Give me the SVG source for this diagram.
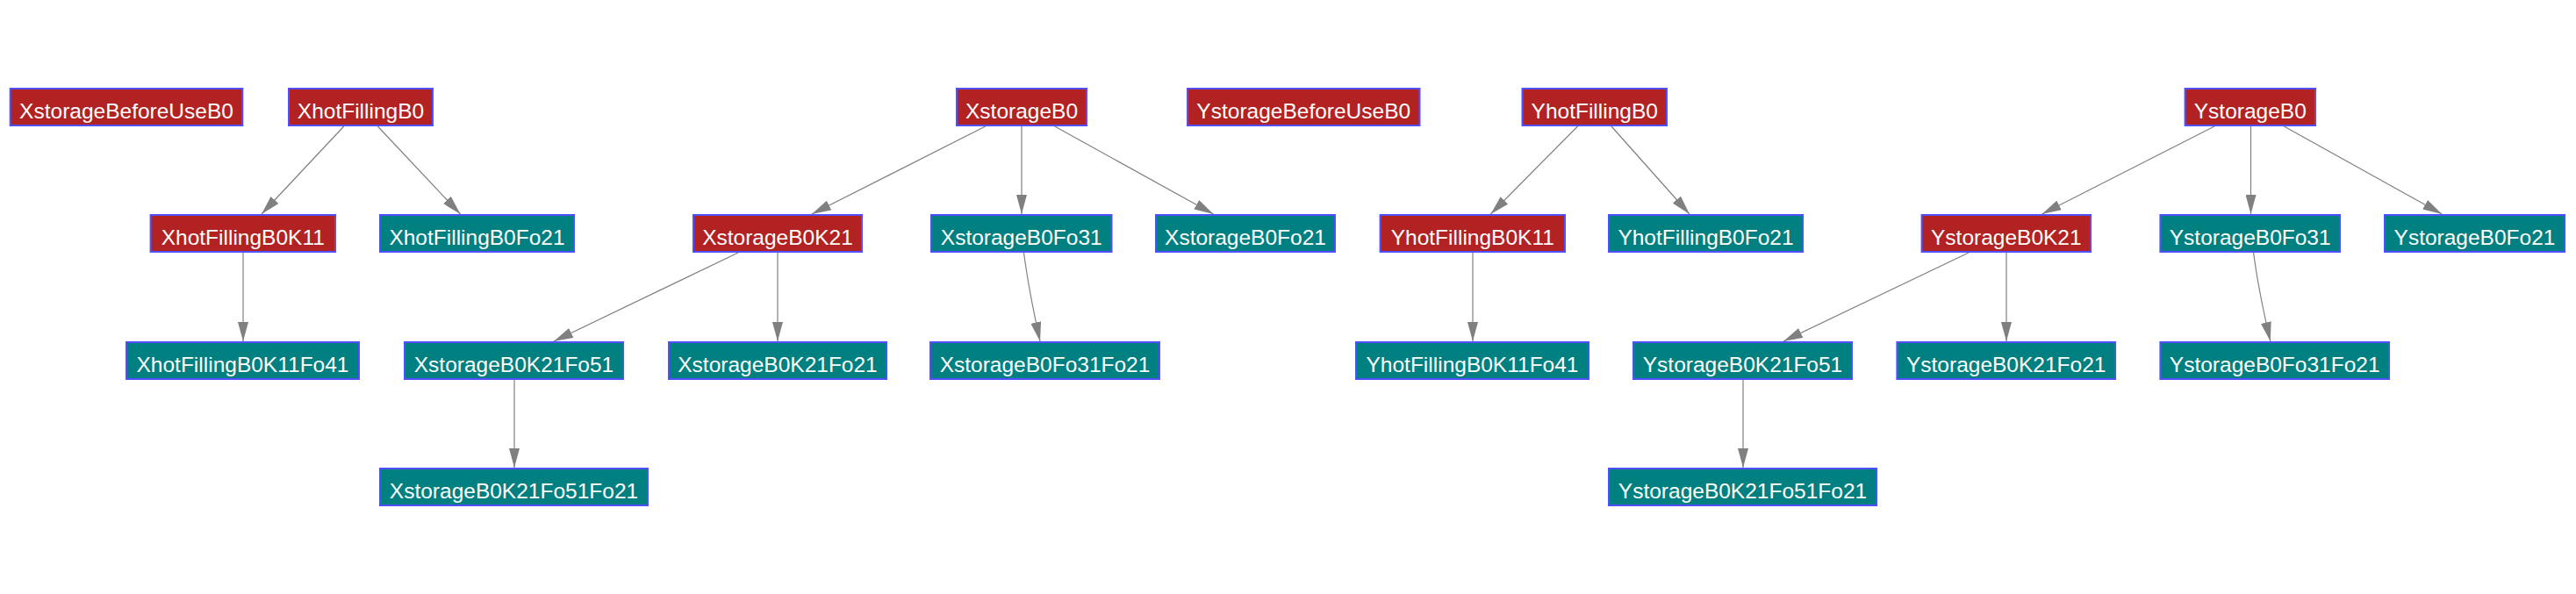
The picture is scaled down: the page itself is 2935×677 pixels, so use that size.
<svg xmlns="http://www.w3.org/2000/svg" width="2935" height="677" viewBox="0 0 2935 677">
<style>
.r{fill:#b22222;stroke:#5050ff;stroke-width:2}
.t{fill:#008080;stroke:#5050ff;stroke-width:2}
text{font-family:"Liberation Sans",Arial,sans-serif;font-size:24.5px;fill:#ffffff;text-anchor:middle}
.e path{fill:none;stroke:#808080;stroke-width:1.2;marker-end:url(#arr)}
</style>
<defs>
<marker id="arr" markerWidth="22" markerHeight="12" refX="22" refY="6" orient="auto" markerUnits="userSpaceOnUse">
<path d="M0,0 L22,6 L0,12 z" fill="#808080"/>
</marker>
</defs>
<rect width="2935" height="677" fill="#ffffff"/>
<g class="e" id="connectors">
<path d="M391.7,144 L298,244"/>
<path d="M430.4,144 L524.5,244"/>
<path d="M277,288 L277,389"/>
<path d="M1122.7,144 L925,244"/>
<path d="M1164,144 L1164,244"/>
<path d="M1201.8,144 L1382.5,244"/>
<path d="M841,288 L631,389"/>
<path d="M886,288 L886,389"/>
<path d="M1166.5,288 Q1172,330 1185,389"/>
<path d="M586,433 L586,533"/>
<path d="M1797.5,144 L1698.4,244"/>
<path d="M1836,144 L1925,244"/>
<path d="M1678,288 L1678,389"/>
<path d="M2523,144 L2326.5,244"/>
<path d="M2564.5,144 L2564.5,244"/>
<path d="M2602.4,144 L2782.3,244"/>
<path d="M2243,288 L2032,389"/>
<path d="M2286,288 L2286,389"/>
<path d="M2567.6,288 Q2573,330 2586.8,389"/>
<path d="M1986,433 L1986,533"/>
</g>
<g id="XstorageBeforeUseB0"><rect class="r" x="11.7" y="101" width="264.6" height="42"/><text x="144" y="134.5">XstorageBeforeUseB0</text></g>
<g id="XhotFillingB0"><rect class="r" x="329" y="101" width="164" height="42"/><text x="411" y="134.5">XhotFillingB0</text></g>
<g id="XstorageB0"><rect class="r" x="1090" y="101" width="148" height="42"/><text x="1164" y="134.5">XstorageB0</text></g>
<g id="YstorageBeforeUseB0"><rect class="r" x="1353" y="101" width="264.5" height="42"/><text x="1485.25" y="134.5">YstorageBeforeUseB0</text></g>
<g id="YhotFillingB0"><rect class="r" x="1734.5" y="101" width="164.5" height="42"/><text x="1816.75" y="134.5">YhotFillingB0</text></g>
<g id="YstorageB0"><rect class="r" x="2489.6" y="101" width="148.4" height="42"/><text x="2563.8" y="134.5">YstorageB0</text></g>

<g id="XhotFillingB0K11"><rect class="r" x="171.6" y="245" width="210.4" height="42"/><text x="276.8" y="278.5">XhotFillingB0K11</text></g>
<g id="XhotFillingB0Fo21"><rect class="t" x="433" y="245" width="221" height="42"/><text x="543.5" y="278.5">XhotFillingB0Fo21</text></g>
<g id="XstorageB0K21"><rect class="r" x="790" y="245" width="192" height="42"/><text x="886" y="278.5">XstorageB0K21</text></g>
<g id="XstorageB0Fo31"><rect class="t" x="1061" y="245" width="205.5" height="42"/><text x="1163.75" y="278.5">XstorageB0Fo31</text></g>
<g id="XstorageB0Fo21"><rect class="t" x="1317" y="245" width="204" height="42"/><text x="1419" y="278.5">XstorageB0Fo21</text></g>
<g id="YhotFillingB0K11"><rect class="r" x="1572.6" y="245" width="210.4" height="42"/><text x="1677.8" y="278.5">YhotFillingB0K11</text></g>
<g id="YhotFillingB0Fo21"><rect class="t" x="1833" y="245" width="221" height="42"/><text x="1943.5" y="278.5">YhotFillingB0Fo21</text></g>
<g id="YstorageB0K21"><rect class="r" x="2189.6" y="245" width="192.4" height="42"/><text x="2285.8" y="278.5">YstorageB0K21</text></g>
<g id="YstorageB0Fo31"><rect class="t" x="2461.4" y="245" width="204.6" height="42"/><text x="2563.7" y="278.5">YstorageB0Fo31</text></g>
<g id="YstorageB0Fo21"><rect class="t" x="2717" y="245" width="205" height="42"/><text x="2819.5" y="278.5">YstorageB0Fo21</text></g>

<g id="XhotFillingB0K11Fo41"><rect class="t" x="144" y="390" width="265" height="42"/><text x="276.5" y="423.5">XhotFillingB0K11Fo41</text></g>
<g id="XstorageB0K21Fo51"><rect class="t" x="461" y="390" width="249" height="42"/><text x="585.5" y="423.5">XstorageB0K21Fo51</text></g>
<g id="XstorageB0K21Fo21"><rect class="t" x="762" y="390" width="248" height="42"/><text x="886" y="423.5">XstorageB0K21Fo21</text></g>
<g id="XstorageB0Fo31Fo21"><rect class="t" x="1060" y="390" width="261" height="42"/><text x="1190.5" y="423.5">XstorageB0Fo31Fo21</text></g>
<g id="YhotFillingB0K11Fo41"><rect class="t" x="1545" y="390" width="265" height="42"/><text x="1677.5" y="423.5">YhotFillingB0K11Fo41</text></g>
<g id="YstorageB0K21Fo51"><rect class="t" x="1861" y="390" width="249" height="42"/><text x="1985.5" y="423.5">YstorageB0K21Fo51</text></g>
<g id="YstorageB0K21Fo21"><rect class="t" x="2161.4" y="390" width="248.6" height="42"/><text x="2285.7" y="423.5">YstorageB0K21Fo21</text></g>
<g id="YstorageB0Fo31Fo21"><rect class="t" x="2461.4" y="390" width="260.6" height="42"/><text x="2591.7" y="423.5">YstorageB0Fo31Fo21</text></g>

<g id="XstorageB0K21Fo51Fo21"><rect class="t" x="433" y="534" width="305" height="42"/><text x="585.5" y="567.5">XstorageB0K21Fo51Fo21</text></g>
<g id="YstorageB0K21Fo51Fo21"><rect class="t" x="1833" y="534" width="305" height="42"/><text x="1985.5" y="567.5">YstorageB0K21Fo51Fo21</text></g>
</svg>
